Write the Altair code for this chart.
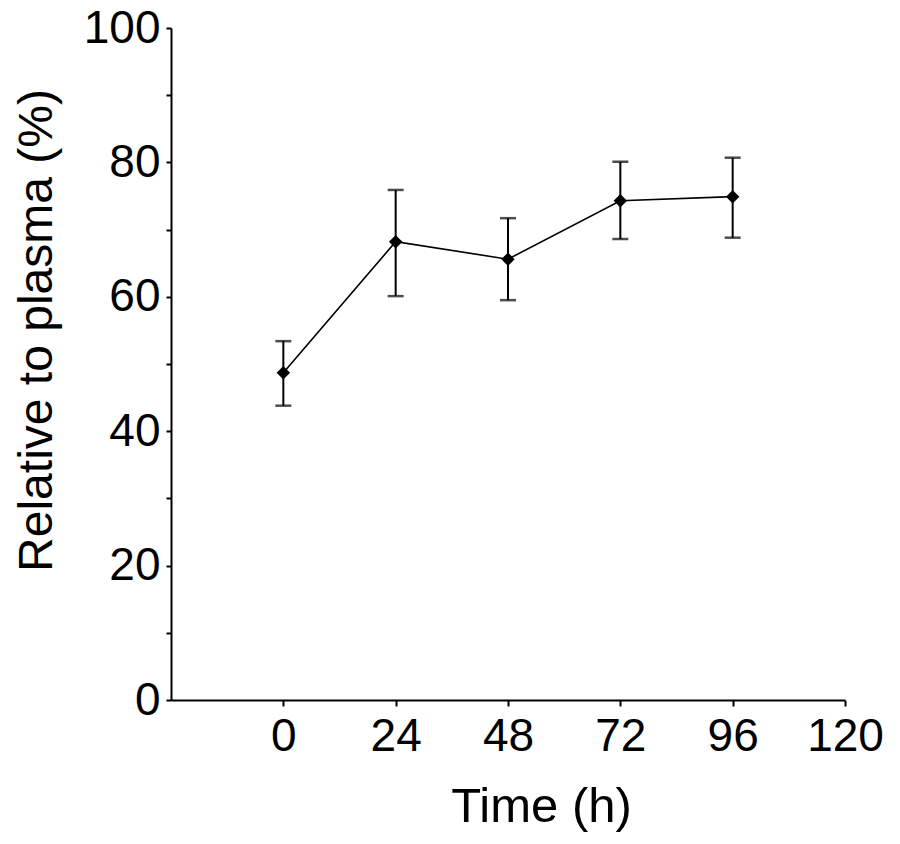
import altair as alt
import pandas as pd

time_h = [0, 24, 48, 72, 96]
mean_pct = [48.7, 68.2, 65.6, 74.3, 74.9]
err_low = [43.8, 60.1, 59.5, 68.6, 68.8]
err_high = [53.4, 75.9, 71.7, 80.1, 80.7]

x_ticks = [0, 24, 48, 72, 96, 120]
y_ticks = [0, 10, 20, 30, 40, 50, 60, 70, 80, 90, 100]

df = pd.DataFrame({"t": time_h, "m": mean_pct, "lo": err_low, "hi": err_high})

FONT = "Liberation Sans"

x_enc = alt.X(
    "t:Q",
    scale=alt.Scale(domain=[-24, 120], nice=False, zero=False),
    axis=alt.Axis(
        values=x_ticks,
        title="Time (h)",
        titleX=370,
        titleY=82,
        titleFontSize=49,
        labelFontSize=46,
        tickSize=6,
        labelPadding=8,
        labelFlush=False,
        titleFontWeight="normal",
    ),
)
y_enc = alt.Y(
    "m:Q",
    scale=alt.Scale(domain=[0, 100], nice=False),
    axis=alt.Axis(
        values=y_ticks,
        labelExpr="datum.value % 20 == 0 ? datum.label : ''",
        title="Relative to plasma (%)",
        titleFontSize=48,
        labelFontSize=46,
        tickSize=5,
        labelPadding=6,
        labelFlush=False,
        titlePadding=22,
        titleY=302,
        titleFontWeight="normal",
    ),
)

base = alt.Chart(df)

line = base.mark_line(color="black", strokeWidth=1.6).encode(x=x_enc, y=y_enc)
bars = base.mark_rule(color="black", strokeWidth=2).encode(
    x="t:Q", y="lo:Q", y2="hi:Q"
)
cap_lo = base.mark_tick(color="black", orient="horizontal", size=16, thickness=2.5).encode(
    x="t:Q", y="lo:Q"
)
cap_hi = base.mark_tick(color="black", orient="horizontal", size=16, thickness=2.5).encode(
    x="t:Q", y="hi:Q"
)
pts = base.mark_point(shape="diamond", filled=True, color="black", size=180, opacity=1).encode(
    x="t:Q", y="m:Q"
)

chart = (
    alt.layer(line, bars, cap_lo, cap_hi, pts)
    .properties(
        width=674,
        height=672,
        autosize=alt.AutoSizeParams(type="none"),
        padding={"left": 163, "top": 20, "right": 47, "bottom": 136},
        background="white",
    )
    .configure_view(stroke=None)
    .configure_axis(
        grid=False,
        domainColor="black",
        domainWidth=2,
        tickColor="black",
        tickWidth=2,
        labelColor="black",
        titleColor="black",
        labelFont=FONT,
        titleFont=FONT,
    )
)

chart.save("out.html", embed_options={"renderer": "svg", "actions": False})
